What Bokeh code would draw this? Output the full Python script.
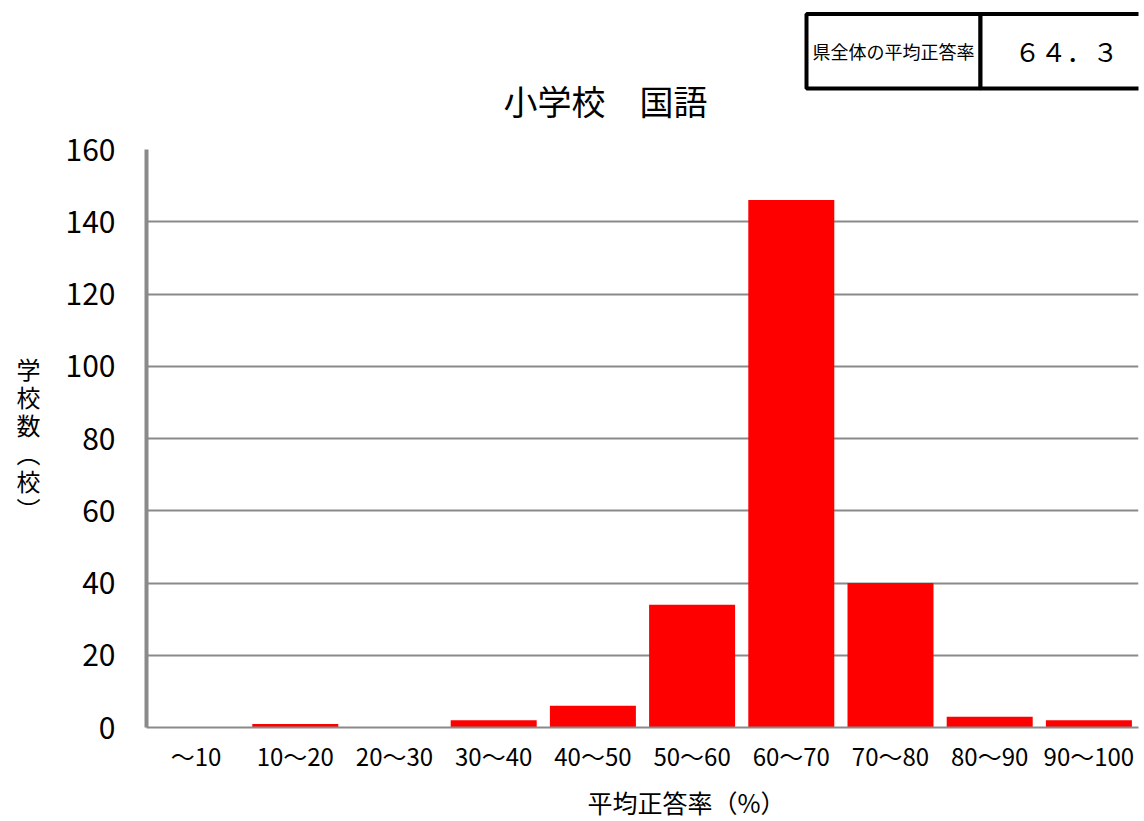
from bokeh.plotting import figure
from bokeh.models import FactorRange, Range1d
from bokeh.layouts import column
from bokeh.core.properties import value
from bokeh.embed import file_html
from bokeh.resources import INLINE

# Number of schools by average correct-answer rate band
categories = ["～10", "10～20", "20～30", "30～40", "40～50",
              "50～60", "60～70", "70～80", "80～90", "90～100"]
school_counts = [0, 1, 0, 2, 6, 34, 146, 40, 3, 2]
y_ticks = [0, 20, 40, 60, 80, 100, 120, 140, 160]

title_text = "小学校　国語"
x_label = "平均正答率（%）"
y_label_chars = ["学", "校", "数", "︵", "校", "︶"]
summary_caption = "県全体の平均正答率"
summary_value = "６４．３"

FONT = "Noto Sans CJK JP"
GRAY = "#8a8a8a"
W, H = 1144, 821
HEADER_H = 126                      # strip with the summary box and the title
FOOTER_H = 46                       # strip with the x-axis caption
LEFT, RIGHT, TOP, BOTTOM = 146, 1138, 149, 727
MAIN_H = H - HEADER_H - FOOTER_H


def strip(height):
    """Plain drawing strip; the column aligns its frame with the chart's
    frame, so x is given in page pixels over that span."""
    return figure(width=W, height=height,
                  x_range=Range1d(LEFT, RIGHT), y_range=Range1d(height, 0),
                  x_axis_type=None, y_axis_type=None,
                  output_backend="svg", toolbar_location=None,
                  min_border=0, outline_line_color=None)


# ---- header: prefecture-wide average box + chart title ----
head = strip(HEADER_H)
head.quad(left=[806, 980], right=[980, 1150], top=[13.5, 13.5], bottom=[88, 88],
          fill_color="white", line_color="black", line_width=4)
head.text(x=[893], y=[50], text=[summary_caption],
          text_align="center", text_baseline="middle",
          text_font=value(FONT), text_font_size="18px", text_color="black")
head.text(x=[1066], y=[50], text=[summary_value],
          text_align="center", text_baseline="middle",
          text_font=value(FONT), text_font_size="26px", text_color="black")
head.text(x=[605], y=[99.5], text=[title_text],
          text_align="center", text_baseline="middle",
          text_font=value(FONT), text_font_size="34px", text_color="black")

# ---- main bar chart ----
p = figure(width=W, height=MAIN_H,
           x_range=FactorRange(*categories),
           y_range=Range1d(0, 160),
           output_backend="svg", toolbar_location=None,
           min_border_left=LEFT, min_border_right=W - RIGHT,
           min_border_top=TOP - HEADER_H,
           min_border_bottom=HEADER_H + MAIN_H - BOTTOM)

p.vbar(x=categories, top=school_counts, width=0.867,
       fill_color="#ff0000", line_color=None)

# y axis
p.yaxis.ticker = y_ticks
p.yaxis.axis_line_color = GRAY
p.yaxis.axis_line_width = 4
p.yaxis.major_tick_line_color = None
p.yaxis.major_tick_out = 0
p.yaxis.minor_tick_line_color = None
p.yaxis.minor_tick_out = 0
p.yaxis.major_label_text_font = FONT
p.yaxis.major_label_text_font_size = "30px"
p.yaxis.major_label_text_color = "black"
p.yaxis.major_label_standoff = 31
p.yaxis.axis_label = "\n".join(y_label_chars)
p.yaxis.axis_label_orientation = "horizontal"
p.yaxis.axis_label_text_font = FONT
p.yaxis.axis_label_text_font_size = "24px"
p.yaxis.axis_label_text_font_style = "normal"
p.yaxis.axis_label_text_color = "black"
p.yaxis.axis_label_text_line_height = 0.8
p.yaxis.axis_label_standoff = 22

# x axis
p.xaxis.axis_line_color = GRAY
p.xaxis.axis_line_width = 2
p.xaxis.major_tick_line_color = None
p.xaxis.major_tick_out = 0
p.xaxis.minor_tick_line_color = None
p.xaxis.minor_tick_out = 0
p.xaxis.major_label_text_font = FONT
p.xaxis.major_label_text_font_size = "24px"
p.xaxis.major_label_text_color = "black"
p.xaxis.major_label_standoff = 10

p.xgrid.grid_line_color = None
p.ygrid.grid_line_color = GRAY
p.ygrid.grid_line_width = 2
p.outline_line_color = None

# ---- footer: x-axis caption ----
foot = strip(FOOTER_H)
foot.text(x=[686], y=[26.5], text=[x_label],
          text_align="center", text_baseline="middle",
          text_font=value(FONT), text_font_size="25px", text_color="black")

layout = column(head, p, foot, spacing=0)
open("out.html", "w").write(file_html(layout, INLINE))
